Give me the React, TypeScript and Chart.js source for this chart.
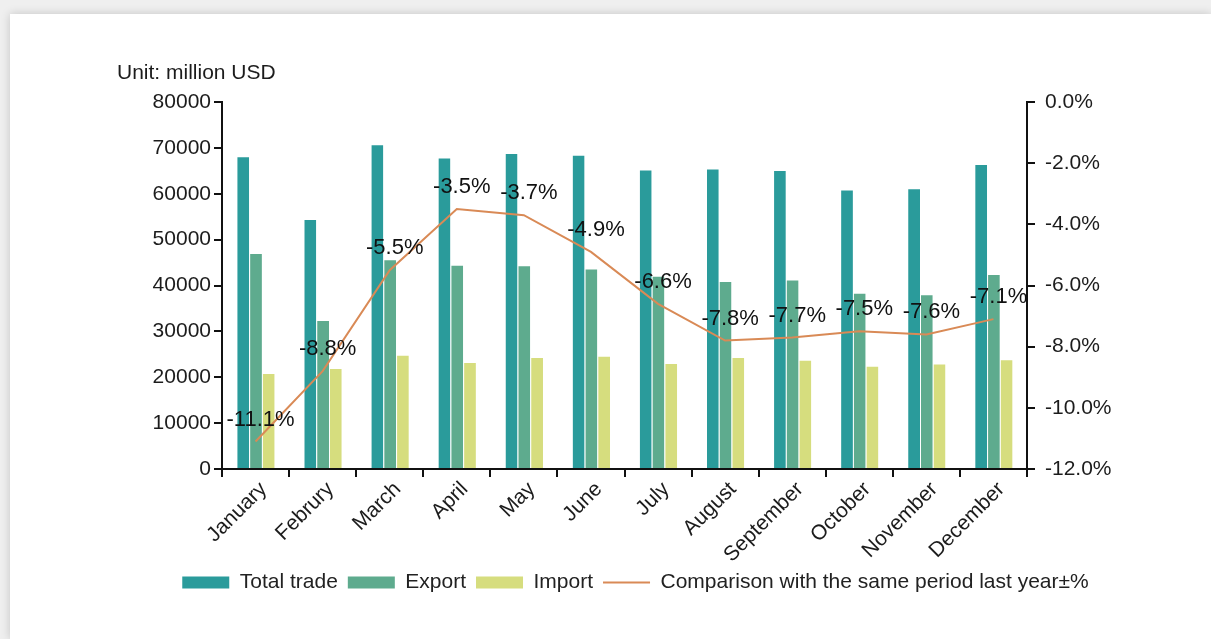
import React, { useEffect, useRef } from "react";
import { Chart, registerables } from "chart.js";

Chart.register(...registerables);

const months = ["January", "Februry", "March", "April", "May", "June", "July", "August", "September", "October", "November", "December"];
const totalTrade = [68200, 54500, 70800, 67900, 68900, 68500, 65300, 65500, 65200, 60900, 61200, 66500];
const exportValues = [47100, 32500, 45700, 44500, 44400, 43700, 42100, 41000, 41300, 38400, 38100, 42500];
const importValues = [20900, 22000, 24900, 23300, 24400, 24700, 23100, 24400, 23800, 22500, 23000, 23900];
const yoyChange = [-11.1, -8.8, -5.5, -3.5, -3.7, -4.9, -6.6, -7.8, -7.7, -7.5, -7.6, -7.1];

const seriesNames = ["Total trade", "Export", "Import", "Comparison with the same period last year±%"];
const unitLabel = "Unit: million USD";

const COLORS = {
  total: "#2a9b9b",
  export: "#5eab8e",
  import: "#d6dd7e",
  line: "#d98a56",
  text: "#1c1c1c",
};
const FONT = "'Liberation Sans', Arial, Helvetica, sans-serif";

const W = 1201;
const H = 625;

const overlayPlugin = {
  id: "overlayText",
  afterDatasetsDraw(chart: any) {
    const ctx = chart.ctx;
    const meta = chart.getDatasetMeta(3);
    ctx.save();
    ctx.font = `22px ${FONT}`;
    ctx.fillStyle = "#111";
    ctx.textAlign = "center";
    ctx.textBaseline = "middle";
    meta.data.forEach((pt: any, i: number) => {
      ctx.fillText(yoyChange[i].toFixed(1) + "%", pt.x + 5, pt.y - 22);
    });
    ctx.font = `21px ${FONT}`;
    ctx.textAlign = "left";
    ctx.fillStyle = COLORS.text;
    ctx.fillText(unitLabel, chart.chartArea.left - 105, chart.chartArea.top - 29);
    ctx.restore();
  },
};

const barBorder = "rgba(255,255,255,0.4)";
const barBorderWidth = { top: 1, left: 1, right: 0, bottom: 0 };

export default function App() {
  const canvasRef = useRef<HTMLCanvasElement | null>(null);

  useEffect(() => {
    if (!canvasRef.current) return;
    const chart = new Chart(canvasRef.current, {
      type: "bar",
      data: {
        labels: months,
        datasets: [
          {
            type: "bar",
            label: seriesNames[0],
            data: totalTrade,
            backgroundColor: COLORS.total,
            borderColor: barBorder,
            borderWidth: barBorderWidth,
            borderSkipped: false,
            yAxisID: "y",
            order: 1,
          } as any,
          {
            type: "bar",
            label: seriesNames[1],
            data: exportValues,
            backgroundColor: COLORS.export,
            borderColor: barBorder,
            borderWidth: barBorderWidth,
            borderSkipped: false,
            yAxisID: "y",
            order: 1,
          } as any,
          {
            type: "bar",
            label: seriesNames[2],
            data: importValues,
            backgroundColor: COLORS.import,
            borderColor: barBorder,
            borderWidth: barBorderWidth,
            borderSkipped: false,
            yAxisID: "y",
            order: 1,
          } as any,
          {
            type: "line",
            label: seriesNames[3],
            data: yoyChange,
            borderColor: COLORS.line,
            backgroundColor: COLORS.line,
            borderWidth: 2,
            pointRadius: 0,
            tension: 0,
            yAxisID: "y1",
            order: 0,
          } as any,
        ],
      },
      options: {
        responsive: false,
        animation: false,
        layout: { padding: { left: 50, right: 0, top: 88, bottom: 36 } },
        datasets: {
          bar: { categoryPercentage: 0.57, barPercentage: 1 },
        } as any,
        plugins: {
          tooltip: { enabled: false },
          legend: {
            position: "bottom",
            labels: {
              usePointStyle: true,
              pointStyleWidth: 47,
              boxHeight: 12,
              padding: 10,
              color: "#222",
              font: { family: FONT, size: 21 },
              sort: (a: any, b: any) => a.datasetIndex - b.datasetIndex,
              generateLabels: (c: any) => {
                const items = (Chart.defaults.plugins.legend.labels as any).generateLabels(c);
                return items.map((it: any) => {
                  const isLine = it.datasetIndex === 3;
                  return {
                    ...it,
                    pointStyle: isLine ? "line" : "rect",
                    lineWidth: isLine ? 2 : 0,
                    strokeStyle: isLine ? COLORS.line : it.fillStyle,
                    fontColor: "#222",
                  };
                });
              },
            },
          },
        },
        scales: {
          x: {
            offset: true,
            grid: {
              offset: true,
              drawOnChartArea: false,
              drawTicks: true,
              tickLength: 8,
              color: "#111",
              lineWidth: 2,
            },
            border: { display: true, color: "#111", width: 2 },
            ticks: {
              autoSkip: false,
              maxRotation: 45,
              minRotation: 45,
              padding: 0,
              labelOffset: 8,
              color: COLORS.text,
              font: { family: FONT, size: 21 },
            },
            afterFit: (s: any) => {
              s.height = 93;
            },
          },
          y: {
            position: "left",
            min: 0,
            max: 80000,
            ticks: {
              stepSize: 10000,
              padding: 3,
              color: COLORS.text,
              font: { family: FONT, size: 21 },
              callback: (v: any) => String(v),
            },
            grid: {
              drawOnChartArea: false,
              drawTicks: true,
              tickLength: 8,
              color: "#111",
              lineWidth: 2,
            },
            border: { display: true, color: "#111", width: 2 },
            afterFit: (s: any) => {
              s.width = 162;
            },
          },
          y1: {
            position: "right",
            min: -12,
            max: 0,
            ticks: {
              stepSize: 2,
              padding: 10,
              color: COLORS.text,
              font: { family: FONT, size: 21 },
              callback: (v: any) => Number(v).toFixed(1) + "%",
            },
            grid: {
              drawOnChartArea: false,
              drawTicks: true,
              tickLength: 8,
              color: "#111",
              lineWidth: 2,
            },
            border: { display: true, color: "#111", width: 2 },
            afterFit: (s: any) => {
              s.width = 184;
            },
          },
        },
      },
      plugins: [overlayPlugin],
    });
    return () => chart.destroy();
  }, []);

  return (
    <div style={{ position: "fixed", inset: 0, background: "#efefef" }}>
      <div
        style={{
          position: "absolute",
          left: 10,
          top: 14,
          width: W,
          height: H,
          background: "#fff",
          boxShadow: "0 0 9px rgba(0,0,0,0.18)",
        }}
      >
        <canvas ref={canvasRef} width={W} height={H} style={{ display: "block" }} />
      </div>
    </div>
  );
}
